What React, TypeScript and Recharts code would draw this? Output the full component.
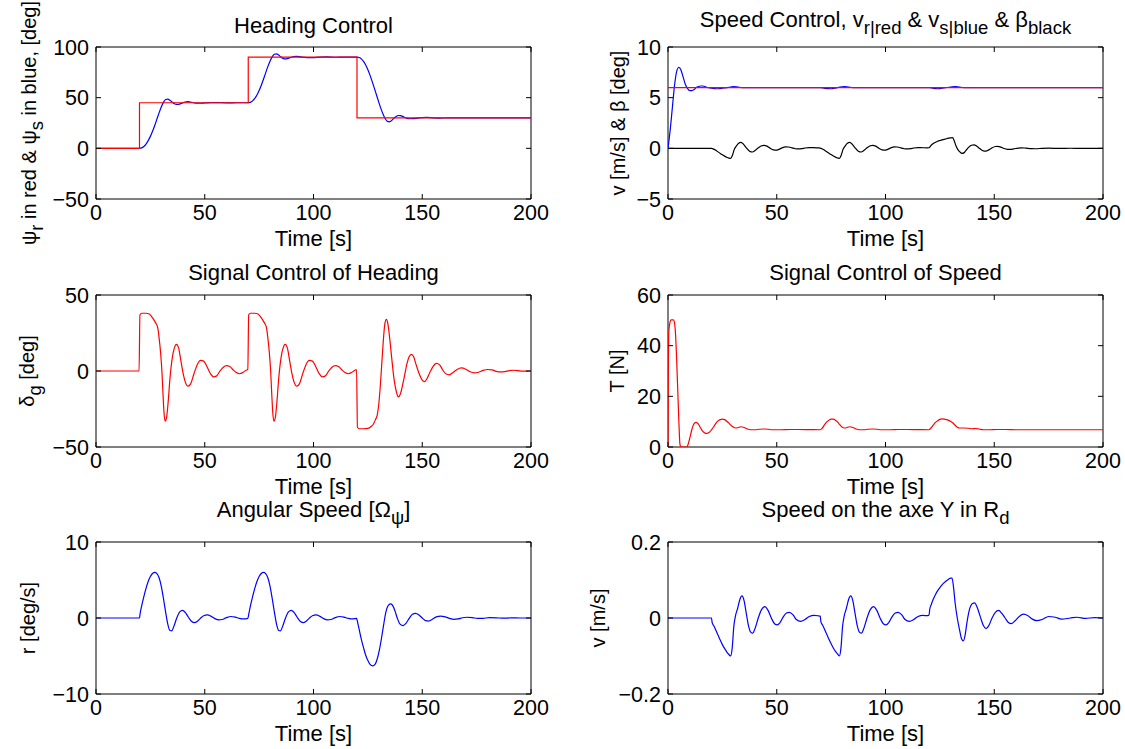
import React from 'react';
import { LineChart, Line, XAxis, YAxis, ReferenceArea } from 'recharts';

// time axis shared by every subplot
const timeTicks = [0, 50, 100, 150, 200];

// Heading control
const psiRef: [number, number][] = [[0, 0], [20, 45], [70, 90], [120, 30], [200, 30]];
const psiS: [number, number][] = [
  [0, 0], [20, 0], [21, 0.4], [22, 1.8], [23, 4.2], [24, 7.6], [25, 11.8], [26, 16.8], [27, 22.5], [28, 28.8],
  [29, 35], [30, 40.8], [31, 45.4], [32, 48.2], [33, 48.6], [34, 47.4], [35, 45.6], [36, 44.1], [37, 43.3],
  [38, 43.4], [39, 44.1], [40, 45], [41, 45.7], [42, 46], [43, 45.8], [44, 45.3], [46, 44.6], [48, 44.5],
  [50, 44.8], [53, 45.2], [56, 45.1], [60, 44.9], [65, 45], [70, 45], [71, 45.4], [72, 46.8], [73, 49.2],
  [74, 52.6], [75, 57], [76, 62.3], [77, 68.2], [78, 74.5], [79, 80.6], [80, 86], [81, 90.3], [82, 92.8],
  [83, 93.2], [84, 92], [85, 90.2], [86, 88.8], [87, 88.2], [88, 88.5], [89, 89.3], [90, 90.1], [91, 90.6],
  [92, 90.7], [94, 90.3], [96, 89.7], [98, 89.5], [100, 89.6], [103, 90.1], [106, 90.2], [110, 89.9],
  [115, 90], [120, 90], [121, 89.6], [122, 88.3], [123, 85.8], [124, 82.2], [125, 77.5], [126, 72],
  [127, 65.8], [128, 59.2], [129, 52.4], [130, 45.6], [131, 39.2], [132, 33.6], [133, 29.2], [134, 26.6],
  [135, 26.2], [136, 27.6], [137, 29.7], [138, 31.5], [139, 32.4], [140, 32.3], [141, 31.5], [142, 30.5],
  [143, 29.6], [144, 29.2], [146, 29.3], [148, 29.9], [150, 30.4], [152, 30.5], [155, 30.1], [158, 29.9],
  [162, 30], [200, 30],
];

// Speed control
const speedRef: [number, number][] = [[0, 6], [200, 6]];
const speedS: [number, number][] = [
  [0, 0], [1, 1.8], [2, 4], [3, 6.2], [4, 7.6], [5, 8], [6, 7.7], [7, 7], [8, 6.3], [9, 5.9], [10, 5.7],
  [11, 5.7], [12, 5.8], [13, 6], [14, 6.1], [15, 6.15], [16, 6.15], [17, 6.1], [18, 6], [20, 5.95],
  [22, 5.88], [24, 5.9], [26, 5.97], [28, 6.02], [30, 6.08], [32, 6.05], [34, 6], [40, 5.98], [50, 6],
  [70, 6], [72, 5.92], [75, 5.88], [77, 5.95], [79, 6.05], [81, 6.1], [83, 6.05], [85, 6], [120, 6],
  [122, 5.92], [124, 5.88], [127, 5.96], [130, 6.05], [132, 6.1], [134, 6.05], [136, 6], [200, 6],
];
const beta: [number, number][] = [
  [0, 0], [20, 0], [21, -0.08], [22, -0.2], [23, -0.35], [24, -0.5], [25, -0.64], [26, -0.77], [27, -0.88],
  [28, -0.96], [28.8, -1], [29.6, -0.7], [30.5, -0.1], [31.5, 0.25], [32.5, 0.5], [33.5, 0.58], [34.5, 0.45],
  [36, 0.05], [37.5, -0.28], [38.8, -0.36], [40, -0.22], [41.5, 0.05], [43, 0.25], [44.2, 0.3], [45.5, 0.22],
  [47, 0], [48.5, -0.15], [49.8, -0.18], [51, -0.1], [52.5, 0.05], [54, 0.14], [55.5, 0.13], [57, 0.04],
  [58.5, -0.04], [60, -0.06], [61.5, -0.03], [63, 0.03], [65, 0.07], [67, 0.07], [69, 0.04], [70, 0.03],
  [71, -0.06], [72, -0.18], [73, -0.33], [74, -0.48], [75, -0.62], [76, -0.76], [77, -0.87], [78, -0.95],
  [78.8, -1], [79.6, -0.7], [80.5, -0.1], [81.5, 0.25], [82.5, 0.5], [83.5, 0.58], [84.5, 0.45], [86, 0.05],
  [87.5, -0.28], [88.8, -0.36], [90, -0.22], [91.5, 0.05], [93, 0.25], [94.2, 0.3], [95.5, 0.22], [97, 0],
  [98.5, -0.15], [99.8, -0.18], [101, -0.1], [102.5, 0.05], [104, 0.14], [105.5, 0.13], [107, 0.04],
  [108.5, -0.04], [110, -0.06], [111.5, -0.03], [113, 0.03], [115, 0.07], [117, 0.06], [119, 0.05],
  [120, 0.06], [121, 0.3], [122, 0.48], [123, 0.6], [124, 0.7], [125, 0.77], [126, 0.83], [127, 0.89],
  [128, 0.95], [129, 1], [130, 1.04], [130.8, 1.05], [131.5, 0.8], [132.3, 0.3], [133.2, -0.1],
  [134.2, -0.35], [135.2, -0.5], [136, -0.45], [137, -0.2], [138.2, 0.1], [139.5, 0.3], [140.7, 0.35],
  [142, 0.2], [143.5, -0.05], [145, -0.25], [146.2, -0.28], [147.5, -0.15], [149, 0.05], [150.5, 0.18],
  [151.7, 0.2], [153, 0.12], [154.5, -0.02], [156, -0.1], [157.3, -0.11], [159, -0.05], [161, 0.03],
  [162.5, 0.05], [164.5, 0.02], [167, -0.03], [169, -0.04], [172, 0], [175, 0.02], [180, -0.01],
  [185, 0.01], [190, 0], [200, 0],
];

// rudder signal
const deltaG: [number, number][] = [
  [0, 0], [19.8, 0], [20.2, 37], [21, 38], [23, 38], [24.5, 37.5], [25.5, 36], [26.5, 34], [27.5, 31.5],
  [28.3, 29], [29, 22], [29.7, 12], [30.3, 0], [30.8, -15], [31.3, -28], [31.8, -33], [32.4, -31], [33.2, -20],
  [34, -5], [35, 8], [36, 15], [37, 17.5], [38, 15], [39, 7], [40, -1], [41, -7], [42.3, -10], [43.5, -8.5],
  [45, -2], [46.5, 4], [48, 7], [49.5, 6.5], [51, 3], [52.5, -1.5], [54, -3.8], [55.5, -3.2], [57, 0],
  [58.5, 2.5], [60, 3.5], [61.5, 3], [63, 0.8], [64.5, -1], [66, -1.8], [67.5, -1], [69, 0.5], [69.8, 1],
  [70.2, 37], [71, 38], [73, 38], [74.5, 37.5], [75.5, 36], [76.5, 34], [77.5, 31.5], [78.3, 29], [79, 22],
  [79.7, 12], [80.3, 0], [80.8, -15], [81.3, -28], [81.8, -33], [82.4, -31], [83.2, -20], [84, -5], [85, 8],
  [86, 15], [87, 17.5], [88, 15], [89, 7], [90, -1], [91, -7], [92.3, -10], [93.5, -8.5], [95, -2],
  [96.5, 4], [98, 7], [99.5, 6.5], [101, 3], [102.5, -1.5], [104, -3.8], [105.5, -3.2], [107, 0],
  [108.5, 2.5], [110, 3.5], [111.5, 3], [113, 0.8], [114.5, -1], [116, -1.8], [117.5, -1], [119, 0.5],
  [119.8, 1], [120.2, -37], [121, -38], [123, -38], [125, -37.8], [126.5, -36.5], [127.5, -35], [128.5, -32],
  [129.3, -29], [130, -22], [130.7, -10], [131.4, 5], [132.1, 20], [132.8, 31], [133.5, 34], [134.2, 31],
  [135, 22], [136, 8], [137, -5], [138, -13], [139, -17], [140, -15], [141, -9], [142, -2], [143, 5],
  [144, 9.5], [145, 11], [146, 9.5], [147, 5], [148.5, -1.5], [150, -6], [151, -7], [152, -5.5],
  [153.5, -1], [155, 3], [156.5, 5], [158, 4], [159.5, 0.5], [161, -2], [162.5, -2.5], [164, -1.2],
  [166, 1], [168, 2], [170, 1.2], [172, -0.5], [174, -1.2], [176, -0.8], [178, 0.4], [180, 1], [182, 0.8],
  [184, -0.2], [186, -0.6], [188, -0.4], [190, 0.2], [192, 0.5], [194, 0.3], [196, -0.1], [198, -0.1],
  [200, 0],
];

// thrust signal
const thrust: [number, number][] = [
  [0, 0], [0.15, 30], [0.4, 46], [1, 49.5], [1.5, 50.2], [2.5, 50.2], [3, 49], [3.5, 44], [4, 34],
  [4.5, 22], [5, 10], [5.5, 1], [6, 0], [8.5, 0], [9, 0.5], [10, 3.5], [11, 7], [12, 9.2], [13, 9.7],
  [14, 9], [15, 7.5], [16, 6.2], [17, 5.5], [18, 5.4], [19, 5.8], [20, 6.8], [21, 8], [22, 9.3],
  [23, 10.3], [24, 10.8], [25, 11], [26, 10.8], [27, 10.2], [28, 9.4], [29, 8.5], [30, 7.9], [31, 7.5],
  [32, 7.6], [33.5, 8], [35, 7.7], [36.5, 7.1], [38, 6.8], [40, 6.8], [42, 7], [44, 7.1], [46, 7],
  [48, 6.8], [52, 6.8], [56, 6.9], [60, 6.9], [65, 6.85], [70, 6.8], [71, 7.5], [72, 8.8], [73, 9.9],
  [74, 10.6], [75, 11], [76, 11], [77, 10.6], [78, 9.8], [79, 8.8], [80, 7.9], [81, 7.5], [82, 7.6],
  [83.5, 8], [85, 7.7], [86.5, 7.1], [88, 6.8], [90, 6.8], [92, 7], [94, 7.1], [96, 7], [98, 6.8],
  [102, 6.8], [106, 6.9], [110, 6.9], [115, 6.85], [120, 6.8], [121, 7.6], [122, 8.7], [123, 9.7],
  [124, 10.4], [125, 10.9], [126, 11.1], [127, 11], [128, 10.8], [129, 10.5], [130, 10.1], [131, 9.5],
  [132, 8.6], [133, 7.8], [134, 7.5], [136, 7.5], [138, 7.4], [140, 7.2], [141.5, 7.3], [143, 7.1],
  [145, 6.8], [148, 6.8], [151, 6.9], [155, 6.9], [160, 6.8], [200, 6.8],
];

// yaw rate
const yawRate: [number, number][] = [
  [0, 0], [20, 0], [20.3, 0.6], [21, 1.6], [22, 2.8], [23, 3.9], [24, 4.8], [25, 5.45], [26, 5.85], [27, 6],
  [28, 5.85], [29, 5.3], [30, 4.2], [31, 2.6], [32, 0.8], [33, -0.8], [34, -1.65], [34.8, -1.7],
  [35.8, -1.1], [37, -0.1], [38.5, 0.8], [39.8, 1], [41, 0.75], [42.5, 0.1], [44, -0.45], [45.3, -0.6],
  [46.5, -0.45], [48, -0.05], [49.5, 0.3], [51.2, 0.4], [52.8, 0.25], [54.5, -0.05], [56.5, -0.25],
  [58, -0.2], [60, 0.05], [62, 0.2], [64, 0.12], [66, -0.05], [68, -0.12], [69.8, -0.05], [70.3, 0.6],
  [71, 1.6], [72, 2.8], [73, 3.9], [74, 4.8], [75, 5.45], [76, 5.85], [77, 6], [78, 5.85], [79, 5.3],
  [80, 4.2], [81, 2.6], [82, 0.8], [83, -0.8], [84, -1.65], [84.8, -1.7], [85.8, -1.1], [87, -0.1],
  [88.5, 0.8], [89.8, 1], [91, 0.75], [92.5, 0.1], [94, -0.45], [95.3, -0.6], [96.5, -0.45], [98, -0.05],
  [99.5, 0.3], [101.2, 0.4], [102.8, 0.25], [104.5, -0.05], [106.5, -0.25], [108, -0.2], [110, 0.05],
  [112, 0.2], [114, 0.12], [116, -0.05], [118, -0.12], [119.8, -0.05], [120.3, -0.6], [121, -1.5],
  [122, -2.8], [123, -3.9], [124, -4.9], [125, -5.6], [126, -6.1], [127.2, -6.3], [128.3, -6.1],
  [129.3, -5.4], [130.3, -4.2], [131.3, -2.6], [132.3, -0.8], [133.3, 0.8], [134.5, 1.7], [135.5, 1.85],
  [136.5, 1.6], [137.5, 0.9], [138.5, 0], [139.8, -0.8], [141.2, -1], [142.5, -0.7], [144, -0.05],
  [145.5, 0.5], [147, 0.62], [148.5, 0.4], [150, 0], [151.5, -0.35], [153, -0.4], [154.5, -0.2],
  [156.5, 0.15], [158.5, 0.25], [160.5, 0.15], [162.5, -0.05], [164.5, -0.18], [166.5, -0.12],
  [168.5, 0.03], [170.5, 0.1], [173, 0.05], [175.5, -0.06], [178, -0.04], [181, 0.04], [184, 0.02],
  [187, -0.02], [191, 0.01], [195, 0], [200, 0],
];

// sway speed
const swaySpeed: [number, number][] = [
  [0, 0], [20, 0], [20.3, -0.012], [21, -0.02], [22, -0.032], [23, -0.045], [24, -0.058], [25, -0.07],
  [26, -0.08], [27, -0.089], [28, -0.096], [28.8, -0.1], [29.5, -0.08], [30.3, -0.02], [31, 0.005],
  [32, 0.025], [33, 0.048], [34, 0.058], [35, 0.045], [36, 0.012], [37, -0.02], [38, -0.037], [39, -0.04],
  [40, -0.028], [41.5, 0], [43, 0.022], [44.5, 0.03], [46, 0.02], [47.5, 0], [49, -0.015], [50.2, -0.018],
  [51.5, -0.012], [53, 0.003], [54.5, 0.013], [55.8, 0.015], [57.5, 0.008], [59, -0.004], [61, -0.009],
  [63, -0.004], [65, 0.004], [67, 0.007], [69, 0.006], [70, 0.005], [70.3, -0.01], [71, -0.018],
  [72, -0.03], [73, -0.043], [74, -0.056], [75, -0.068], [76, -0.079], [77, -0.088], [78, -0.095],
  [78.8, -0.1], [79.5, -0.08], [80.3, -0.02], [81, 0.005], [82, 0.025], [83, 0.048], [84, 0.058],
  [85, 0.045], [86, 0.012], [87, -0.02], [88, -0.037], [89, -0.04], [90, -0.028], [91.5, 0], [93, 0.022],
  [94.5, 0.03], [96, 0.02], [97.5, 0], [99, -0.015], [100.2, -0.018], [101.5, -0.012], [103, 0.003],
  [104.5, 0.013], [105.8, 0.015], [107.5, 0.008], [109, -0.004], [111, -0.009], [113, -0.004],
  [115, 0.004], [117, 0.007], [119.5, 0.006], [120, 0.008], [120.4, 0.025], [121, 0.035], [122, 0.05],
  [123, 0.062], [124, 0.072], [125, 0.08], [126, 0.087], [127, 0.093], [128, 0.098], [129, 0.102],
  [130, 0.105], [130.6, 0.105], [131.3, 0.08], [132, 0.04], [133, 0], [134, -0.03], [135, -0.055],
  [135.8, -0.06], [136.6, -0.045], [137.5, -0.01], [138.5, 0.02], [140, 0.038], [141, 0.04], [142, 0.03],
  [143.5, 0.005], [145, -0.02], [146.2, -0.028], [147.5, -0.02], [149, 0], [150.5, 0.015], [152, 0.02],
  [153.5, 0.012], [155, 0], [156.5, -0.012], [157.8, -0.015], [159.5, -0.008], [161.5, 0.004],
  [163.5, 0.01], [165.5, 0.006], [167.5, -0.003], [169.5, -0.007], [172, -0.004], [175, 0.004],
  [178, 0.002], [181, -0.003], [185, 0], [188, 0.002], [192, -0.001], [196, 0.001], [200, 0],
];

const FONT = '"Liberation Sans", Arial, Helvetica, sans-serif';
const FS = 21.5; // tick labels
const FS_T = 22; // titles and x labels
const FS_Y = 20; // rotated y labels
const FS_SUB = 18.5; // subscripts
const PW = 435; // plot width
const PH = 152; // plot height
const AX_W = 80;
const PAD_T = 20;
const PAD_R = 30;
const AX_H = 34;
const TICK = 5;

const BLUE = '#0000ff';
const RED = '#ff0000';

const rows = (pts: [number, number][]) => pts.map(([t, v]) => ({ t, v }));
const fmt = (v: number) => (v < 0 ? '\u2212' + Math.abs(v) : String(v));

const XTick = ({ x, payload }: any) => (
  <g>
    <line x1={x} x2={x} y1={PAD_T} y2={PAD_T + TICK} stroke="#000" />
    <line x1={x} x2={x} y1={PAD_T + PH} y2={PAD_T + PH - TICK} stroke="#000" />
    <text x={x} y={PAD_T + PH + 21} textAnchor="middle" fontSize={FS} fontFamily={FONT} fill="#000">
      {fmt(payload.value)}
    </text>
  </g>
);

const YTick = ({ y, payload }: any) => (
  <g>
    <line x1={AX_W} x2={AX_W + TICK} y1={y} y2={y} stroke="#000" />
    <line x1={AX_W + PW} x2={AX_W + PW - TICK} y1={y} y2={y} stroke="#000" />
    <text x={AX_W - 7} y={y + 7.5} textAnchor="end" fontSize={FS} fontFamily={FONT} fill="#000">
      {fmt(payload.value)}
    </text>
  </g>
);

interface Series { pts: [number, number][]; color: string; step?: boolean }

const Panel = ({ left, top, domain, ticks, series }: { left: number; top: number; domain: [number, number]; ticks: number[]; series: Series[] }) => (
  <div style={{ position: 'absolute', left: left - AX_W, top: top - PAD_T }}>
    <LineChart width={AX_W + PW + PAD_R} height={PAD_T + PH + AX_H} margin={{ top: PAD_T, right: PAD_R, bottom: 0, left: 0 }}>
      <XAxis dataKey="t" type="number" domain={[0, 200]} ticks={timeTicks} interval={0} height={AX_H}
        tickLine={false} axisLine={false} tick={(p: any) => <XTick {...p} />} allowDataOverflow />
      <YAxis type="number" domain={domain} ticks={ticks} interval={0} width={AX_W}
        tickLine={false} axisLine={false} tick={(p: any) => <YTick {...p} />} allowDataOverflow />
      <ReferenceArea x1={0} x2={200} y1={domain[0]} y2={domain[1]} fill="none" fillOpacity={0} stroke="#000" strokeWidth={1} />
      {series.map((s, i) => (
        <Line key={i} data={rows(s.pts)} dataKey="v" type={s.step ? 'stepAfter' : 'monotone'} stroke={s.color}
          strokeWidth={1.2} dot={false} activeDot={false} isAnimationActive={false} />
      ))}
    </LineChart>
  </div>
);

const L1 = 96;
const L2 = 668;
const T1 = 47;
const T2 = 295;
const T3 = 542;

const cx1 = L1 + PW / 2;
const cx2 = L2 + PW / 2;

const txt = { fontFamily: FONT, fontSize: FS_T, fill: '#000' };

const Sub = ({ children }: { children: string }) => <tspan dy={7} fontSize={FS_SUB}>{children}</tspan>;
const Up = ({ children }: { children: string }) => <tspan dy={-7}>{children}</tspan>;

const YLabel = ({ x, y, children }: { x: number; y: number; children: React.ReactNode }) => (
  <text x={x} y={y} textAnchor="middle" transform={`rotate(-90 ${x} ${y})`} {...txt} fontSize={FS_Y}>{children}</text>
);

export default function App() {
  return (
    <div style={{ position: 'absolute', left: 0, top: 0, width: 1125, height: 749, background: '#fff', overflow: 'hidden' }}>
      <Panel left={L1} top={T1} domain={[-50, 100]} ticks={[-50, 0, 50, 100]}
        series={[{ pts: psiS, color: BLUE }, { pts: psiRef, color: RED, step: true }]} />
      <Panel left={L2} top={T1} domain={[-5, 10]} ticks={[-5, 0, 5, 10]}
        series={[{ pts: speedS, color: BLUE }, { pts: speedRef, color: RED }, { pts: beta, color: '#000' }]} />
      <Panel left={L1} top={T2} domain={[-50, 50]} ticks={[-50, 0, 50]}
        series={[{ pts: deltaG, color: RED }]} />
      <Panel left={L2} top={T2} domain={[0, 60]} ticks={[0, 20, 40, 60]}
        series={[{ pts: thrust, color: RED }]} />
      <Panel left={L1} top={T3} domain={[-10, 10]} ticks={[-10, 0, 10]}
        series={[{ pts: yawRate, color: BLUE }]} />
      <Panel left={L2} top={T3} domain={[-0.2, 0.2]} ticks={[-0.2, 0, 0.2]}
        series={[{ pts: swaySpeed, color: BLUE }]} />

      <svg width={1125} height={749} style={{ position: 'absolute', left: 0, top: 0, pointerEvents: 'none' }}>
        {/* titles */}
        <text x={cx1} y={33} textAnchor="middle" {...txt}>Heading Control</text>
        <text x={cx2} y={27} textAnchor="middle" {...txt}>
          Speed Control, v<Sub>r|red</Sub><Up> &amp; v</Up><Sub>s|blue</Sub><Up> &amp; β</Up><Sub>black</Sub>
        </text>
        <text x={cx1} y={280} textAnchor="middle" {...txt}>Signal Control of Heading</text>
        <text x={cx2} y={280} textAnchor="middle" {...txt}>Signal Control of Speed</text>
        <text x={cx1} y={517} textAnchor="middle" {...txt}>
          Angular Speed [Ω<Sub>ψ</Sub><Up>]</Up>
        </text>
        <text x={cx2} y={517} textAnchor="middle" {...txt}>
          Speed on the axe Y in R<Sub>d</Sub>
        </text>

        {/* x labels */}
        {[246, 494, 741].map((y) => (
          <React.Fragment key={y}>
            <text x={cx1} y={y} textAnchor="middle" {...txt}>Time [s]</text>
            <text x={cx2} y={y} textAnchor="middle" {...txt}>Time [s]</text>
          </React.Fragment>
        ))}

        {/* y labels */}
        <YLabel x={36} y={T1 + PH / 2}>
          ψ<Sub>r</Sub><Up> in red &amp; ψ</Up><Sub>s</Sub><Up> in blue, [deg]</Up>
        </YLabel>
        <YLabel x={625} y={T1 + PH / 2}>v [m/s] &amp; β [deg]</YLabel>
        <YLabel x={34} y={T2 + PH / 2}>
          δ<Sub>g</Sub><Up> [deg]</Up>
        </YLabel>
        <YLabel x={624} y={T2 + PH / 2}>T [N]</YLabel>
        <YLabel x={35} y={T3 + PH / 2}>r [deg/s]</YLabel>
        <YLabel x={605} y={T3 + PH / 2}>v [m/s]</YLabel>
      </svg>
    </div>
  );
}
